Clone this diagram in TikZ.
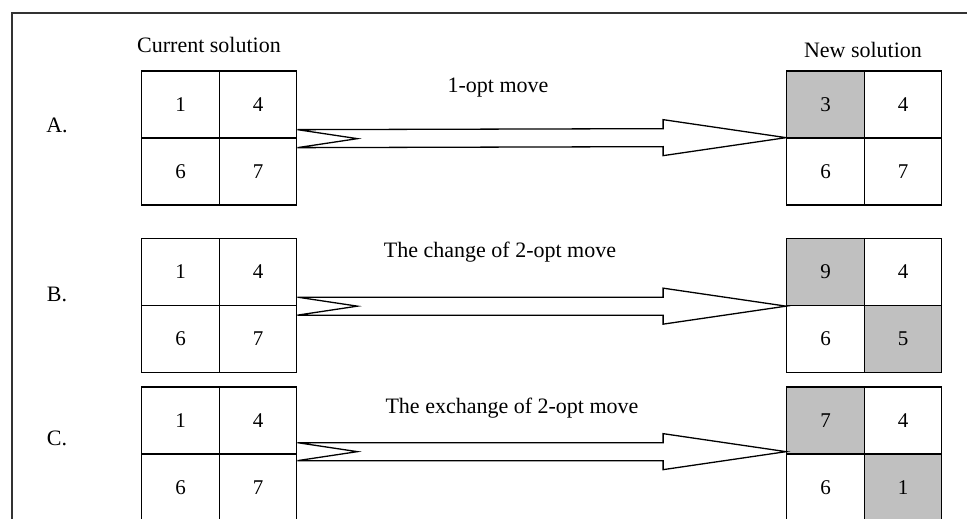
\documentclass[tikz,border=0pt]{standalone}
\usepackage{fontspec}
\setmainfont{Liberation Serif}
\usetikzlibrary{calc}
\definecolor{hitgray}{HTML}{C0C0C0}
\newcommand\movearrow[2]{%
  \draw[bigarrow] ($(#1)+(0,-9)$) -- ($(#2)+(-123,-9)$) -- ($(#2)+(-123,-18)$) -- (#2)
    -- ($(#2)+(-123,18)$) -- ($(#2)+(-123,9)$) -- ($(#1)+(0,9)$) -- ($(#1)+(60,0)$) -- cycle;}
\begin{document}
\begin{tikzpicture}[x=1pt,y=-1pt,
  cell/.style={draw, line width=1.3pt, minimum width=77.5pt, minimum height=67pt,
    inner sep=0pt, font=\fontsize{21}{25}\selectfont},
  hit/.style={cell, fill=hitgray},
  lbl/.style={font=\fontsize{22}{26}\selectfont, inner sep=0pt},
  bigarrow/.style={draw, line width=1.3pt, fill=white, line join=miter}]
\useasboundingbox (0,0) rectangle (967,519);
\draw[line width=1.6pt, black!80] (12,530) -- (12,13) -- (975,13);

\node[lbl] (cur) at (209,45) {Current solution};
\node[lbl] (new) at (863,50) {New solution};

% Row A
\node[lbl] (la) at (57,125) {A.};
\node[cell] (a11) at (180.5,104.5) {1};
\node[cell] (a12) at (258,104.5) {4};
\node[cell] (a21) at (180.5,171.5) {6};
\node[cell] (a22) at (258,171.5) {7};
\node[hit]  (na11) at (825.5,104.5) {3};
\node[cell] (na12) at (903,104.5) {4};
\node[cell] (na21) at (825.5,171.5) {6};
\node[cell] (na22) at (903,171.5) {7};
\node[lbl] (ma) at (498,88) {1-opt move};
\coordinate (sa) at (a12.south east);
\coordinate (ea) at ($(na11.south west)+(0,-1)$);
\movearrow{sa}{ea}

% Row B
\node[lbl] (lb) at (57,294) {B.};
\node[cell] (b11) at (180.5,272) {1};
\node[cell] (b12) at (258,272) {4};
\node[cell] (b21) at (180.5,339) {6};
\node[cell] (b22) at (258,339) {7};
\node[hit]  (nb11) at (825.5,272) {9};
\node[cell] (nb12) at (903,272) {4};
\node[cell] (nb21) at (825.5,339) {6};
\node[hit]  (nb22) at (903,339) {5};
\node[lbl] (mb) at (500,252) {The change of 2-opt move};
\coordinate (sb) at (b12.south east);
\coordinate (eb) at (nb11.south west);
\movearrow{sb}{eb}

% Row C
\node[lbl] (lc) at (57,438) {C.};
\node[cell] (c11) at (180.5,420.5) {1};
\node[cell] (c12) at (258,420.5) {4};
\node[cell] (c21) at (180.5,487.5) {6};
\node[cell] (c22) at (258,487.5) {7};
\node[hit]  (nc11) at (825.5,420.5) {7};
\node[cell] (nc12) at (903,420.5) {4};
\node[cell] (nc21) at (825.5,487.5) {6};
\node[hit]  (nc22) at (903,487.5) {1};
\node[lbl] (mc) at (512,408) {The exchange of 2-opt move};
\coordinate (sc) at ($(c12.south east)+(0,-3)$);
\coordinate (ec) at ($(nc11.south west)+(0,-3)$);
\movearrow{sc}{ec}
\end{tikzpicture}
\end{document}
